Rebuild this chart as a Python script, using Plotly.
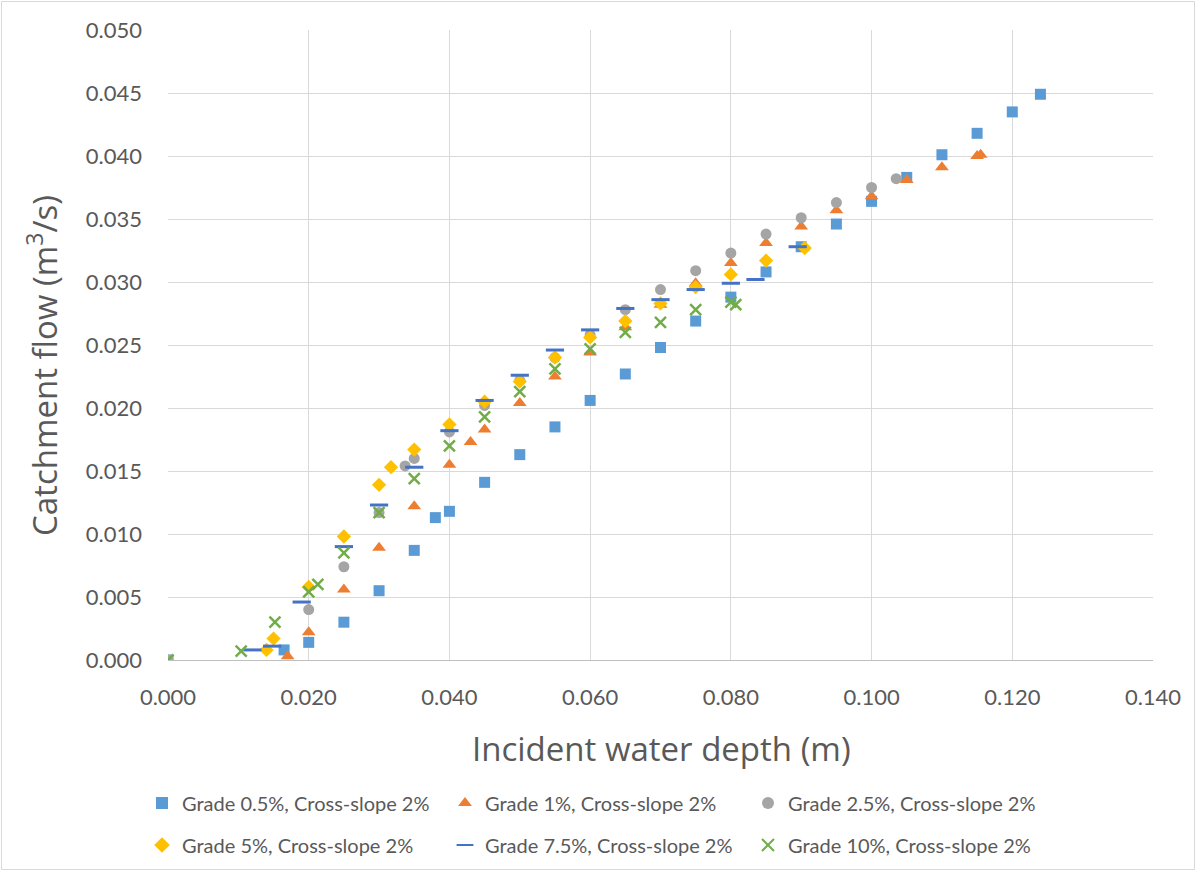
import plotly.graph_objects as go

# ---- data ----
names = [
    "Grade 0.5%, Cross-slope 2%",
    "Grade 1%, Cross-slope 2%",
    "Grade 2.5%, Cross-slope 2%",
    "Grade 5%, Cross-slope 2%",
    "Grade 7.5%, Cross-slope 2%",
    "Grade 10%, Cross-slope 2%",
]

g05_x = [0.000, 0.0165, 0.020, 0.025, 0.030, 0.035, 0.038, 0.040, 0.045, 0.050, 0.055, 0.060,
         0.065, 0.070, 0.075, 0.080, 0.085, 0.090, 0.095, 0.100, 0.105, 0.110, 0.115, 0.120, 0.124]
g05_y = [0.0000, 0.0008, 0.0014, 0.0030, 0.0055, 0.0087, 0.0113, 0.0118, 0.0141, 0.0163, 0.0185, 0.0206,
         0.0227, 0.0248, 0.0269, 0.0288, 0.0308, 0.0328, 0.0346, 0.0364, 0.0383, 0.0401, 0.0418, 0.0435, 0.0449]

g1_x = [0.017, 0.020, 0.025, 0.030, 0.035, 0.040, 0.043, 0.045, 0.050, 0.055, 0.060, 0.065, 0.070,
        0.075, 0.080, 0.085, 0.090, 0.095, 0.100, 0.105, 0.110, 0.115, 0.1155]
g1_y = [0.0003, 0.0022, 0.0056, 0.0089, 0.0122, 0.0155, 0.0173, 0.0183, 0.0204, 0.0225, 0.0244, 0.0264, 0.0282,
        0.0299, 0.0315, 0.0331, 0.0344, 0.0357, 0.0368, 0.0381, 0.0391, 0.0400, 0.0401]

g25_x = [0.000, 0.020, 0.025, 0.030, 0.0337, 0.035, 0.040, 0.045, 0.050, 0.055, 0.060, 0.065, 0.070,
         0.075, 0.080, 0.085, 0.090, 0.095, 0.100, 0.1035]
g25_y = [0.0000, 0.0040, 0.0074, 0.0117, 0.0154, 0.0160, 0.0181, 0.0202, 0.0222, 0.0240, 0.0258, 0.0278, 0.0294,
         0.0309, 0.0323, 0.0338, 0.0351, 0.0363, 0.0375, 0.0382]

g5_x = [0.014, 0.015, 0.020, 0.025, 0.030, 0.0317, 0.035, 0.040, 0.045, 0.050, 0.055, 0.060, 0.065,
        0.070, 0.075, 0.080, 0.085, 0.0905]
g5_y = [0.0008, 0.0017, 0.0058, 0.0098, 0.0139, 0.0153, 0.0167, 0.0187, 0.0205, 0.0221, 0.0240, 0.0256, 0.0269,
        0.0283, 0.0296, 0.0306, 0.0317, 0.0327]

g75_x = [0.012, 0.0148, 0.019, 0.025, 0.030, 0.035, 0.040, 0.045, 0.050, 0.055, 0.060, 0.065, 0.070,
         0.075, 0.080, 0.0835, 0.0895]
g75_y = [0.0008, 0.0011, 0.0046, 0.0090, 0.0123, 0.0153, 0.0182, 0.0206, 0.0226, 0.0246, 0.0262, 0.0279, 0.0286,
         0.0294, 0.0299, 0.0302, 0.0328]

g10_x = [0.000, 0.0104, 0.0152, 0.020, 0.0213, 0.025, 0.030, 0.035, 0.040, 0.045, 0.050, 0.055, 0.060,
         0.065, 0.070, 0.075, 0.080, 0.0807]
g10_y = [0.0000, 0.0007, 0.0030, 0.0054, 0.0060, 0.0085, 0.0117, 0.0144, 0.0170, 0.0193, 0.0213, 0.0231, 0.0247,
         0.0260, 0.0268, 0.0278, 0.0284, 0.0282]

x_ticks = [0.000, 0.020, 0.040, 0.060, 0.080, 0.100, 0.120, 0.140]
y_ticks = [0.000, 0.005, 0.010, 0.015, 0.020, 0.025, 0.030, 0.035, 0.040, 0.045, 0.050]

# ---- styling ----
FONT = "Lato"
TITLE_FONT = "Open Sans"
GREY_TXT = "#595959"
GRID = "#D9D9D9"

series = [
    (g05_x, g05_y, dict(symbol="square", size=11, color="#5B9BD5")),
    (g1_x, g1_y, dict(symbol="triangle-up", size=12, color="#ED7D31")),
    (g25_x, g25_y, dict(symbol="circle", size=11, color="#A5A5A5")),
    (g5_x, g5_y, dict(symbol="diamond", size=11, color="#FFC000")),
    (g75_x, g75_y, dict(symbol="line-ew", size=13, color="#4472C4",
                        line=dict(color="#4472C4", width=3))),
    (g10_x, g10_y, dict(symbol="x-thin", size=11, color="#70AD47",
                        line=dict(color="#70AD47", width=2.5))),
]

fig = go.Figure()
for i, (name, (xs, ys, mk)) in enumerate(zip(names, series)):
    fig.add_trace(go.Scatter(x=xs, y=ys, mode="markers", name=name, marker=mk,
                             legend="legend" if i < 3 else "legend2"))

W, H = 1196, 871
L, R, T, B = 168, 43, 30, 211
pw, ph = W - L - R, H - T - B

def px_x(p):
    return (p - L) / pw

def px_y(p):
    return (H - B - p) / ph

legend_common = dict(
    orientation="h",
    x=px_x(142), xanchor="left",
    yanchor="middle",
    entrywidth=258, entrywidthmode="pixels",
    font=dict(size=20, color=GREY_TXT, family=FONT),
    itemsizing="constant",
    bgcolor="rgba(0,0,0,0)",
)

fig.update_layout(
    width=W, height=H,
    margin=dict(l=L, r=R, t=T, b=B, autoexpand=False),
    paper_bgcolor="white", plot_bgcolor="white",
    font=dict(family=FONT, color=GREY_TXT),
    showlegend=True,
    legend=dict(legend_common, y=px_y(803)),
    legend2=dict(legend_common, y=px_y(845)),
    xaxis=dict(
        range=[0, 0.14], tickvals=x_ticks, tickformat=".3f",
        showgrid=True, gridcolor=GRID, gridwidth=1,
        zeroline=False, showline=True, linecolor="#BFBFBF", linewidth=1,
        ticks="", ticklabelstandoff=18,
        tickfont=dict(size=22, color=GREY_TXT, family=FONT),
    ),
    yaxis=dict(
        range=[0, 0.05], tickvals=y_ticks, tickformat=".3f",
        showgrid=True, gridcolor=GRID, gridwidth=1,
        zeroline=False, showline=False,
        ticks="", ticklabelstandoff=25,
        tickfont=dict(size=22, color=GREY_TXT, family=FONT),
    ),
    annotations=[
        dict(text="Incident water depth (m)", xref="paper", yref="paper",
             x=px_x(661), y=px_y(748), xanchor="center", yanchor="middle",
             showarrow=False, font=dict(size=33, color=GREY_TXT, family=TITLE_FONT)),
        dict(text="Catchment flow (m<sup>3</sup>/s)", xref="paper", yref="paper",
             x=px_x(42), y=px_y(366), xanchor="center", yanchor="middle", textangle=-90,
             showarrow=False, font=dict(size=33, color=GREY_TXT, family=TITLE_FONT)),
    ],
    shapes=[
        dict(type="rect", xref="paper", yref="paper",
             x0=px_x(1.5), x1=px_x(1194.5), y0=px_y(869.5), y1=px_y(1.5),
             line=dict(color="#D9D9D9", width=1), fillcolor="rgba(0,0,0,0)", layer="below"),
    ],
)

fig.write_html("out.html", config={"displayModeBar": False},
               post_script="document.body.style.margin='0';")
